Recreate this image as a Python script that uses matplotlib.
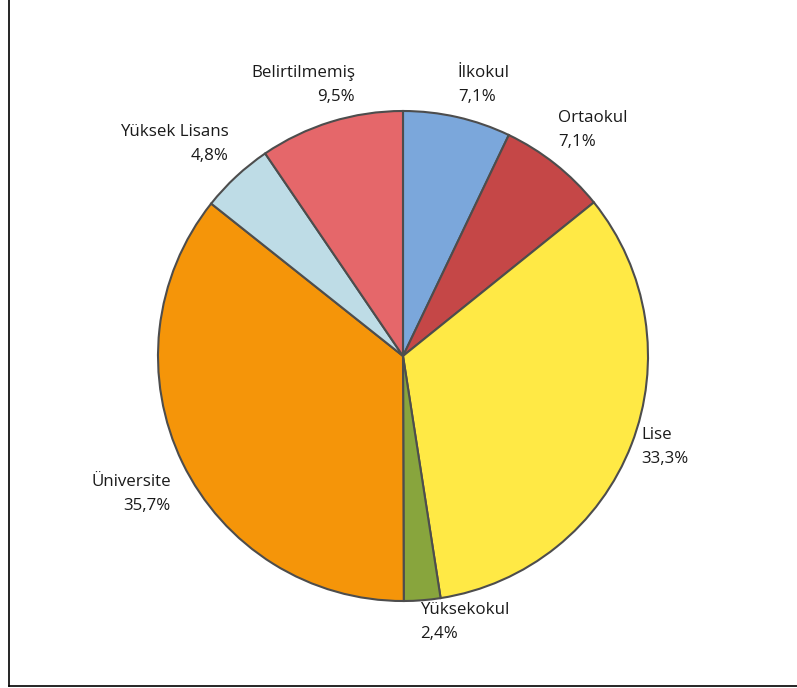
import matplotlib.pyplot as plt

plt.rcParams['font.family'] = ['Open Sans', 'DejaVu Sans']

# data (clockwise from 12 o'clock)
categories = ['İlkokul', 'Ortaokul', 'Lise', 'Yüksekokul', 'Üniversite',
              'Yüksek Lisans', 'Belirtilmemiş']
shares = [7.1, 7.1, 33.3, 2.4, 35.7, 4.8, 9.5]
colors = ['#7BA7DB', '#C54747', '#FFE945', '#88A53D', '#F59509',
          '#BEDCE6', '#E5676A']

# label placement in pixel coords (x, y from top) and alignment
label_pos = [(458, 85, 'left'), (558, 130, 'left'), (641, 447, 'left'),
             (420, 622, 'left'), (171, 494, 'right'), (229, 144, 'right'),
             (355, 85, 'right')]

W, H = 797, 688
fig = plt.figure(figsize=(W / 100, H / 100), dpi=100)
ax = fig.add_axes([0, 0, 1, 1])

cx, cy, r = 403, H - 356, 245
ax.pie(shares, colors=colors, startangle=90, counterclock=False,
       center=(cx, cy), radius=r, frame=True,
       wedgeprops=dict(edgecolor='#4d4d4d', linewidth=1.5))
ax.set_xlim(0, W)
ax.set_ylim(0, H)
ax.set_aspect('equal')
ax.axis('off')

for name, val, (x, y, ha) in zip(categories, shares, label_pos):
    txt = f"{name}\n{str(val).replace('.', ',')}%"
    ax.text(x, H - y, txt, ha=ha, va='center', multialignment=ha,
            fontsize=12.2, color='#1a1a1a', linespacing=1.65)

# chart border (left and bottom visible)
ax.plot([9, 9], [2, H], color='black', lw=1.2, clip_on=False)
ax.plot([9, W], [2, 2], color='black', lw=1.2, clip_on=False)

fig.savefig('out.png', dpi=100)
